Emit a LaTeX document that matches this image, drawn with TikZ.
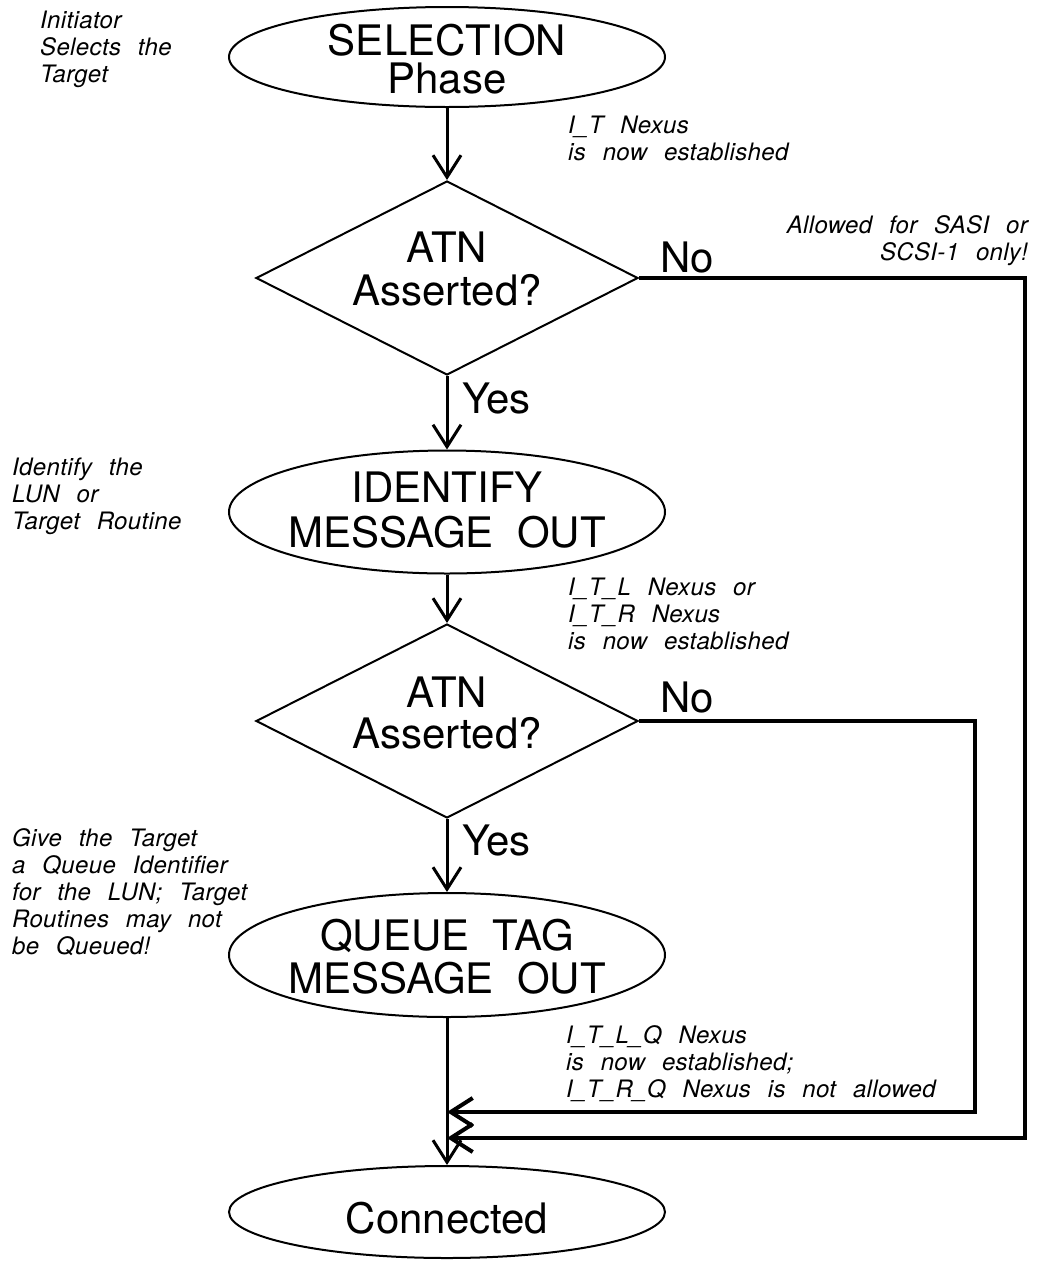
\documentclass[tikz,border=0pt]{standalone}
\usepackage{fontspec}
\setmainfont{TeX Gyre Heros}
\newfontfamily\boxfont{TeX Gyre Heros}[WordSpace=2]
\newfontfamily\notefont{TeX Gyre Heros}[LetterSpace=1.5,WordSpace=2.4]
\usetikzlibrary{shapes.geometric,arrows.meta}
\begin{document}
\begin{tikzpicture}[x=1pt,y=-1pt,
  state/.style={ellipse,draw,line width=2pt,minimum width=436pt,minimum height=123pt,inner sep=0pt},
  test/.style={diamond,draw,line width=2pt,minimum width=382pt,minimum height=194pt,inner sep=0pt,aspect=1.97},
  big/.style={font=\boxfont\fontsize{42}{43}\selectfont,align=center,inner sep=0pt},
  note/.style={font=\notefont\itshape\fontsize{24}{27}\selectfont,inner sep=0pt},
  flow/.style={line width=3pt,-{Straight Barb[length=22pt,width=28pt]}},
  back/.style={line width=4pt,-{Straight Barb[length=22pt,width=28pt]}}
]
\useasboundingbox[fill=white] (0,0) rectangle (1037,1262);

% process states and decisions
\node[state,minimum height=100pt] (sel) at (447,57) {};
\node[test] (d1) at (447,278) {};
\node[state] (id) at (447,512) {};
\node[test] (d2) at (447,721) {};
\node[state,minimum height=124pt] (q) at (447,955) {};
\node[state,minimum height=92pt] (conn) at (447,1212) {};

% their texts
\node[big,font=\boxfont\fontsize{42}{38}\selectfont] (selT) at (447,59) {SELECTION\\Phase};
\node[big] (d1T) at (447,268.5) {ATN\\Asserted?};
\node[big,font=\boxfont\fontsize{42}{45}\selectfont] (idT) at (447,510.5) {IDENTIFY\\MESSAGE OUT};
\node[big,font=\boxfont\fontsize{42}{41}\selectfont] (d2T) at (447,712.5) {ATN\\Asserted?};
\node[big] (qT) at (447,956.5) {QUEUE TAG\\MESSAGE OUT};
\node[big] (connT) at (447,1218) {Connected};

% branch labels
\node[big,anchor=base west] (no1) at (660,272) {No};
\node[big,anchor=base west] (yes1) at (462,413) {Yes};
\node[big,anchor=base west] (no2) at (660,712) {No};
\node[big,anchor=base west] (yes2) at (462,855) {Yes};

% side notes
\node[note,anchor=north west,align=left] (n1) at (40,11) {Initiator\\Selects the\\Target};
\node[note,anchor=north west,align=left] (n2) at (568,116) {I\_T Nexus\\is now established};
\node[note,anchor=north east,align=right] (n3) at (1028,215) {Allowed for SASI or\\SCSI-1 only!};
\node[note,anchor=north west,align=left] (n4) at (12,458) {Identify the\\LUN or\\Target Routine};
\node[note,anchor=north west,align=left] (n5) at (568,578) {I\_T\_L Nexus or\\I\_T\_R Nexus\\is now established};
\node[note,anchor=north west,align=left] (n6) at (12,828) {Give the Target\\a Queue Identifier\\for the LUN; Target\\Routines may not\\be Queued!};
\node[note,anchor=north west,align=left] (n7) at (566,1025) {I\_T\_L\_Q Nexus\\is now established;\\I\_T\_R\_Q Nexus is not allowed};

% bends of the bypass lines and their joins
\coordinate (c1) at (1025,278);
\coordinate (c1b) at (1025,1138);
\coordinate (c2) at (975,721);
\coordinate (c2b) at (975,1112);
\coordinate (j1) at (447,1112);
\coordinate (j2) at (447,1138);

% main flow
\draw[flow] (sel) -- (d1);
\draw[flow] (d1) -- (id);
\draw[flow] (id) -- (d2);
\draw[flow] (d2) -- (q);
\draw[flow] (q) -- (conn);

% "No" bypasses
\draw[back] (d1.east) -- (c1) -- (c1b) -- (j2);
\draw[back] (d2.east) -- (c2) -- (c2b) -- (j1);
\end{tikzpicture}
\end{document}
